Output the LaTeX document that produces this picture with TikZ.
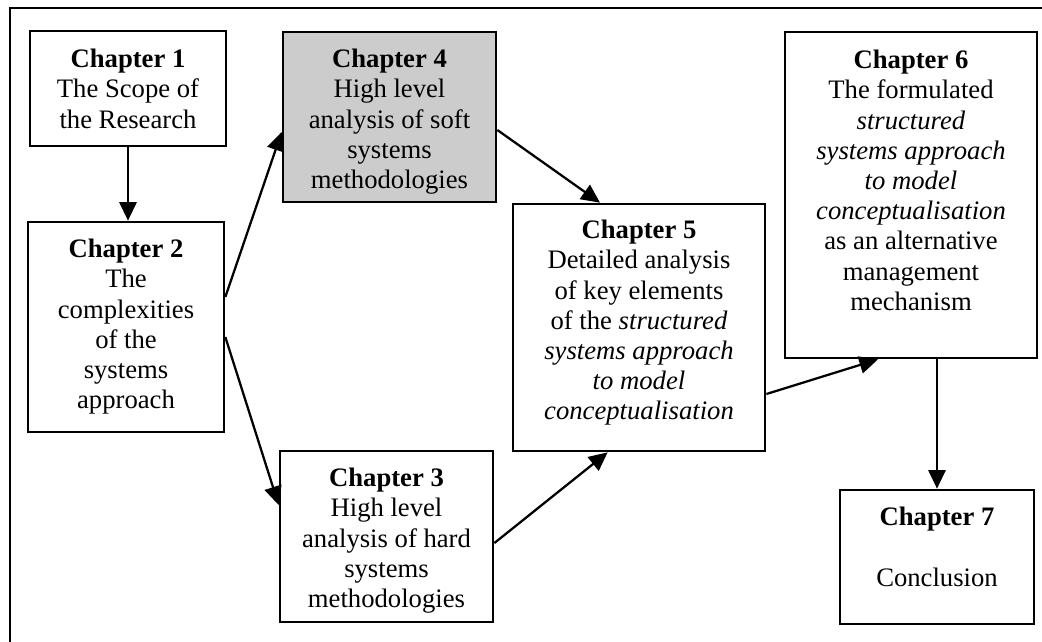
\documentclass[tikz,border=0pt]{standalone}
\usepackage{fontspec}
\setmainfont{Liberation Serif}
\usetikzlibrary{arrows.meta}
\newcommand\myfont{\fontsize{20}{22.65}\selectfont}
\begin{document}
\begin{tikzpicture}[x=0.75pt,y=-0.75pt,
  box/.style={draw, line width=2pt, inner sep=0pt},
  txt/.style={align=center, inner sep=0pt, anchor=north, font=\myfont},
  arr/.style={line width=1.7pt, -{Triangle[length=14pt,width=13pt]}},
  frame/.style={line width=1.8pt}]
\useasboundingbox (0,0) rectangle (1042,642);
% outer frame (top and left edges)
\coordinate (fl) at (10,642);
\coordinate (ftl) at (10,8);
\coordinate (ftr) at (1042,8);
\draw[frame] (fl) -- (ftl) -- (ftr);
% boxes
\node[box, minimum width=147pt, minimum height=86.25pt] (c1) at (128,88.5) {};
\node[box, minimum width=147pt, minimum height=157.5pt] (c2) at (126,327) {};
\node[box, fill=black!20, minimum width=159.75pt, minimum height=127.5pt] (c4) at (389.5,117) {};
\node[box, minimum width=159.75pt, minimum height=128.25pt] (c3) at (386.5,536.5) {};
\node[box, minimum width=189pt, minimum height=185.25pt] (c5) at (639,327.5) {};
\node[box, minimum width=189pt, minimum height=244.5pt] (c6) at (911,195) {};
\node[box, minimum width=145.5pt, minimum height=100.5pt] (c7) at (937,557) {};
% texts
\node[txt] (t1) at (128,49) {\textbf{Chapter 1}\\The Scope of\\the Research};
\node[txt] (t2) at (126,239) {\textbf{Chapter 2}\\The\\complexities\\of the\\systems\\approach};
\node[txt] (t4) at (389.5,49) {\textbf{Chapter 4}\\High level\\analysis of soft\\systems\\methodologies};
\node[txt] (t3) at (386.5,468) {\textbf{Chapter 3}\\High level\\analysis of hard\\systems\\methodologies};
\node[txt] (t5) at (639,220) {\textbf{Chapter 5}\\Detailed analysis\\of key elements\\of the \textit{structured}\\\textit{systems approach}\\\textit{to model}\\\textit{conceptualisation}};
\node[txt] (t6) at (911,50) {\textbf{Chapter 6}\\The formulated\\\textit{structured}\\\textit{systems approach}\\\textit{to model}\\\textit{conceptualisation}\\as an alternative\\management\\mechanism};
\node[txt] (t7) at (937,507) {\textbf{Chapter 7}\\[22.65pt]Conclusion};
% arrows
\draw[arr] (c1.south) -- (c1.south |- c2.north);
\draw[arr] ([yshift=22.5pt]c2.east) -- ([yshift=-11.25pt]c4.west);
\draw[arr] ([yshift=-7.5pt]c2.east) -- ([yshift=23.6pt]c3.west);
\draw[arr] ([yshift=-9.75pt]c4.east) -- ([xshift=-29.25pt]c5.north);
\draw[arr] ([yshift=-4.9pt]c3.east) -- ([xshift=-23.5pt]c5.south);
\draw[arr] ([yshift=-49.9pt]c5.east) -- ([xshift=-24.75pt]c6.south);
\draw[arr] (c6.south -| c7.north) -- (c7.north);
\end{tikzpicture}
\end{document}
